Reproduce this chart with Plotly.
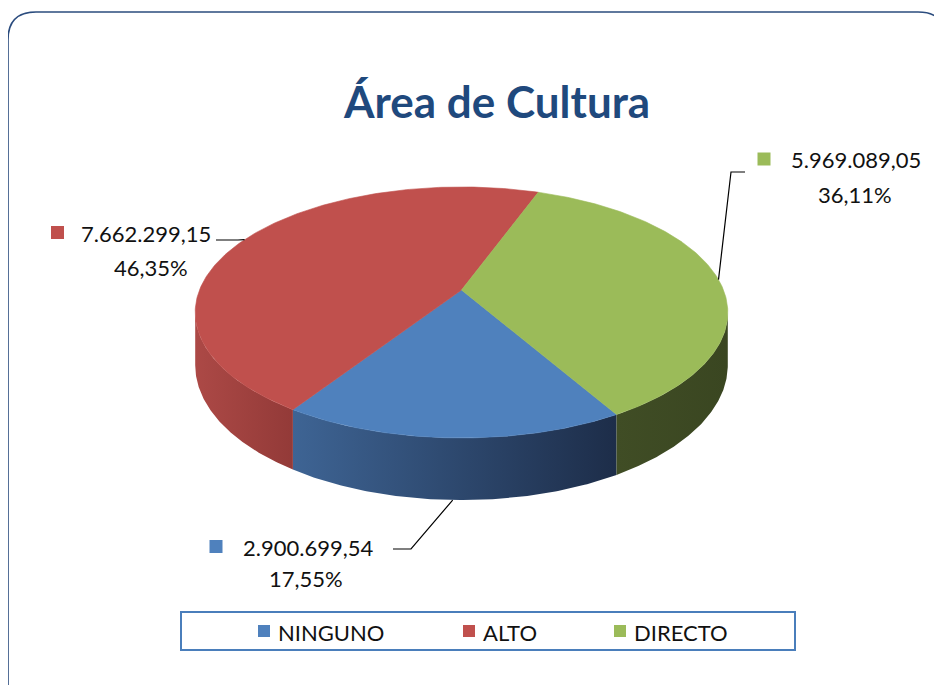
import numpy as np
import plotly.graph_objects as go

# ---------------- data ----------------
categories = ["NINGUNO", "ALTO", "DIRECTO"]
values = [2900699.54, 7662299.15, 5969089.05]
title_text = "Área de Cultura"

# ---------------- style ----------------
top_colors = ["#4F81BD", "#C0504D", "#9BBB59"]
side_scales = [
    [[0, "rgb(62,100,148)"], [1, "rgb(29,45,73)"]],
    [[0, "rgb(172,73,70)"], [1, "rgb(147,58,56)"]],
    [[0, "rgb(64,77,37)"], [1, "rgb(58,70,33)"]],
]
FONT = "Lato"
W, Hpx = 942, 685
OFF = 8  # page body margin: data coords == page pixels

# 3-D pie geometry (pixel space)
CX, CY = 461.5, 290.0
RA, RB = 262.0, 121.5
K = 0.179          # perspective
DEPTH = 51.0
ROT = 150.0        # angle of first slice (deg, clockwise from top)

def proj(theta, drop=0.0):
    t = np.radians(theta)
    u = np.sin(t)
    v = -np.cos(t)
    s = 1.0 / (1.0 - K * v)
    return CX + RA * u * s, CY + RB * v * s + drop * s

def fmt_val(v):
    s = f"{v:,.2f}"
    return s.replace(",", "X").replace(".", ",").replace("X", ".")

def fmt_pct(p):
    return f"{p:.2f}%".replace(".", ",")

total = sum(values)
fracs = [v / total for v in values]
starts, ends = [], []
a = ROT
for f in fracs:
    starts.append(a)
    a += f * 360.0
    ends.append(a)

kf = np.degrees(np.arcsin(K))
front0, front1 = 90.0 + kf, 270.0 - kf

fig = go.Figure()

# side walls (front visible part)
for i, cat in enumerate(categories):
    a0, a1 = starts[i], ends[i]
    for sh in (-360.0, 0.0, 360.0):
        lo, hi = max(a0, front0 + sh), min(a1, front1 + sh)
        if hi <= lo:
            continue
        th = np.linspace(lo, hi, 120)
        xt, yt = proj(th)
        xb, yb = proj(th, DEPTH)
        xs = np.concatenate([xt, xb[::-1], xt[:1]])
        ys = np.concatenate([yt, yb[::-1], yt[:1]])
        fig.add_trace(go.Scatter(
            x=xs, y=ys, mode="lines", fill="toself",
            line=dict(width=0, color=side_scales[i][0][1]),
            fillgradient=dict(type="horizontal", colorscale=side_scales[i],
                              start=float(xs.min()), stop=float(xs.max())),
            hoverinfo="skip", showlegend=False))

# top faces
for i, cat in enumerate(categories):
    th = np.linspace(starts[i], ends[i], 200)
    x, y = proj(th)
    xs = np.concatenate([[CX], x, [CX]])
    ys = np.concatenate([[CY], y, [CY]])
    fig.add_trace(go.Scatter(
        x=xs, y=ys, mode="lines", fill="toself", fillcolor=top_colors[i],
        line=dict(width=0.6, color=top_colors[i]),
        name=cat, hoverinfo="skip", showlegend=False))

# data labels (layout positions)
label_pos = {
    "ALTO":    dict(val=(146, 233), pct=(151, 267), key=(57.5, 232.5), elbow=[(238, 240), (216, 240)], bottom=False),
    "DIRECTO": dict(val=(856, 159), pct=(855, 194), key=(764, 159), elbow=[(731, 172), (745, 172)], bottom=False),
    "NINGUNO": dict(val=(308, 547), pct=(306, 578), key=(216, 546.5), elbow=[(411, 549), (393, 549)], bottom=True),
}

annotations = []
shapes = []
for i, cat in enumerate(categories):
    lp = label_pos[cat]
    mid = (starts[i] + ends[i]) / 2.0
    ax, ay = proj(mid, DEPTH if lp["bottom"] else 0.0)
    lx = [float(ax)] + [p[0] for p in lp["elbow"]]
    ly = [float(ay)] + [p[1] for p in lp["elbow"]]
    fig.add_trace(go.Scatter(x=lx, y=ly, mode="lines",
                             line=dict(color="black", width=1.2),
                             hoverinfo="skip", showlegend=False))
    annotations.append(dict(x=lp["val"][0], y=lp["val"][1], text=fmt_val(values[i]),
                            showarrow=False, xanchor="center", yanchor="middle",
                            font=dict(family=FONT, size=22, color="#111111")))
    annotations.append(dict(x=lp["pct"][0], y=lp["pct"][1], text=fmt_pct(fracs[i] * 100),
                            showarrow=False, xanchor="center", yanchor="middle",
                            font=dict(family=FONT, size=22, color="#111111")))
    kx, ky = lp["key"]
    shapes.append(dict(type="rect", x0=kx - 6.5, x1=kx + 6.5, y0=ky - 6.5, y1=ky + 6.5,
                       fillcolor=top_colors[i], line=dict(width=0), layer="above"))

# title
annotations.append(dict(x=496.5, y=101, text=f"<b>{title_text}</b>", showarrow=False,
                        xanchor="center", yanchor="middle",
                        font=dict(family=FONT, size=44, color="#1F497D")))

# manual legend
shapes.append(dict(type="rect", x0=181, x1=795, y0=612, y1=650,
                   line=dict(color="#4A7EBB", width=2), fillcolor="rgba(0,0,0,0)"))
legend_x = {"NINGUNO": 264, "ALTO": 469, "DIRECTO": 620}
for i, cat in enumerate(categories):
    kx = legend_x[cat]
    shapes.append(dict(type="rect", x0=kx - 6, x1=kx + 6, y0=625, y1=637,
                       fillcolor=top_colors[i], line=dict(width=0)))
    annotations.append(dict(x=kx + 12, y=632, text=cat, showarrow=False,
                            xanchor="left", yanchor="middle",
                            font=dict(family=FONT, size=22, color="#111111")))

# outer rounded border
shapes.append(dict(type="path",
                   path="M 8,720 L 8,40 Q 8,12 36,12 L 918,12 Q 946,12 946,40 L 946,720",
                   line=dict(color="#2B4C7E", width=1.6)))

fig.update_layout(
    width=W, height=Hpx, autosize=False,
    margin=dict(l=0, r=0, t=0, b=0),
    paper_bgcolor="white", plot_bgcolor="white",
    xaxis=dict(range=[OFF, W + OFF], visible=False, fixedrange=True),
    yaxis=dict(range=[Hpx + OFF, OFF], visible=False, fixedrange=True),
    annotations=annotations, shapes=shapes,
    showlegend=False,
)

fig.write_html("out.html")
